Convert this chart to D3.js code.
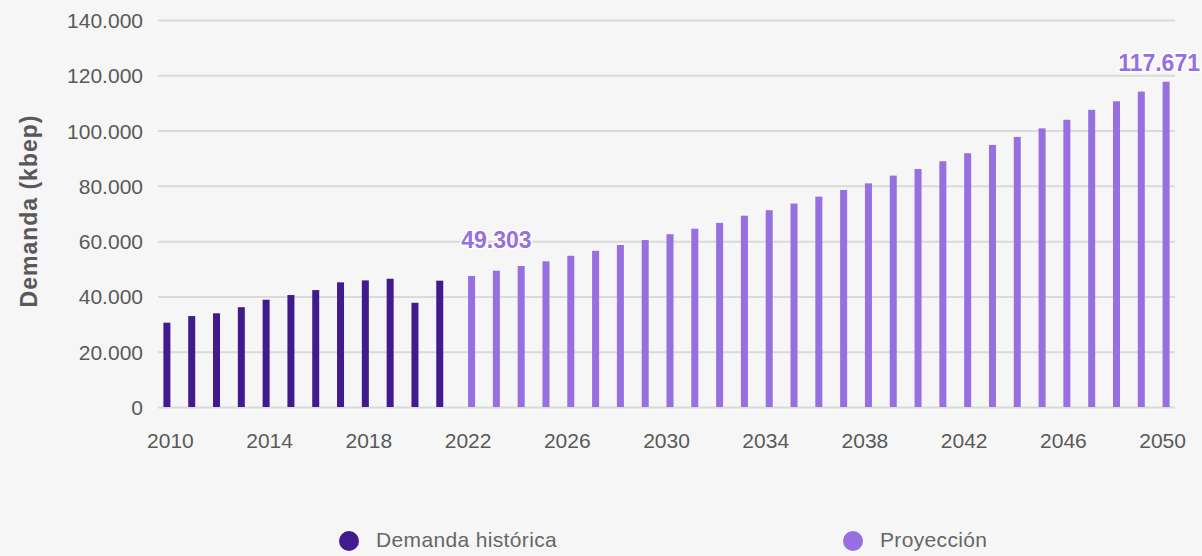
<!DOCTYPE html>
<html lang="es">
<head>
<meta charset="utf-8">
<script src="https://cdn.jsdelivr.net/npm/d3@7"></script>
<style>
  html, body { margin: 0; padding: 0; background: #f6f6f6; }
  svg { display: block; font-family: "Liberation Sans", Arial, Helvetica, sans-serif; }
</style>
</head>
<body>
<svg id="chart" width="1202" height="556"></svg>
<script>
// Demanda energética anual (kbep): histórica 2010–2021 y proyección 2022–2050
const years = d3.range(2010, 2051);
const historicYears = d3.range(2010, 2022);
const historicValues = [30500, 32900, 33900, 36100, 38800, 40500, 42300, 45100, 45800, 46400, 37700, 45700];
const projectionYears = d3.range(2022, 2051);
const projectionValues = [
  47400, 49303, 51000, 52700, 54700, 56500, 58600, 60400, 62500, 64500,
  66600, 69200, 71200, 73600, 76100, 78500, 80900, 83700, 86100, 88900,
  91800, 94800, 97700, 100800, 103900, 107500, 110600, 114100, 117671
];
const yTicks = [0, 20000, 40000, 60000, 80000, 100000, 120000, 140000];
const xTickYears = d3.range(2010, 2051, 4);
const seriesNames = ["Demanda histórica", "Proyección"];
const seriesColors = ["#411a8e", "#966fe0"];
const annotatedYears = [2023, 2050];

const svg = d3.select("#chart");
const W = 1202;

const esLocale = d3.formatLocale({ decimal: ",", thousands: ".", grouping: [3], currency: ["$", ""] });
const fmt = esLocale.format(",d");

const x0 = d3.scaleBand().domain(years).range([158, 1175]).padding(0);
const bw = x0.bandwidth();
const x1 = d3.scaleBand().domain(seriesNames).range([bw / 2 - 7, bw / 2 + 7]).padding(0);
const y = d3.scaleLinear().domain([0, 140000]).range([407, 20]);
const color = d3.scaleOrdinal().domain(seriesNames).range(seriesColors);

// Grid lines + y tick labels
const yAxis = d3.axisLeft(y).tickValues(yTicks).tickFormat(fmt).tickSize(-(1175 - 158)).tickPadding(15);
const gy = svg.append("g").attr("transform", "translate(158,0)").call(yAxis);
gy.select(".domain").remove();
gy.selectAll(".tick line").attr("stroke", "#dadada").attr("stroke-width", 2);
gy.selectAll(".tick text")
  .attr("fill", "#595959").attr("font-size", 21).attr("dy", "0.36em");

// X tick labels
const xAxis = d3.axisBottom(x0).tickValues(xTickYears).tickSize(0).tickPadding(0);
const gx = svg.append("g").attr("transform", "translate(0,407)").call(xAxis);
gx.select(".domain").remove();
gx.selectAll(".tick text")
  .attr("fill", "#595959").attr("font-size", 21).attr("y", 41).attr("dy", 0);

// Axis title
svg.append("text")
  .attr("transform", "translate(37,211) rotate(-90)")
  .attr("text-anchor", "middle")
  .attr("fill", "#595959")
  .attr("font-size", 23)
  .attr("font-weight", 600)
  .attr("letter-spacing", 1)
  .text("Demanda (kbep)");

// Bars
const series = [
  { name: seriesNames[0], years: historicYears, values: historicValues },
  { name: seriesNames[1], years: projectionYears, values: projectionValues }
];
series.forEach(s => {
  svg.append("g").selectAll("rect")
    .data(s.years.map((yr, i) => ({ year: yr, value: s.values[i] })))
    .join("rect")
    .attr("x", d => x0(d.year) + x1(s.name))
    .attr("width", x1.bandwidth())
    .attr("y", d => y(d.value))
    .attr("height", d => y(0) - y(d.value))
    .attr("fill", color(s.name));
});

// Value callouts on selected projection bars
const labelLift = { 2023: 23, 2050: 11 };
annotatedYears.forEach(yr => {
  const v = projectionValues[projectionYears.indexOf(yr)];
  const cx = x0(yr) + x1(seriesNames[1]) + x1.bandwidth() / 2;
  const t = svg.append("text")
    .attr("x", cx)
    .attr("y", y(v) - labelLift[yr])
    .attr("text-anchor", "middle")
    .attr("font-size", 23)
    .attr("font-weight", 700)
    .attr("fill", seriesColors[1])
    .attr("stroke", "#ffffff")
    .attr("stroke-width", 3)
    .attr("paint-order", "stroke")
    .attr("stroke-linejoin", "round")
    .text(fmt(v));
  const box = t.node().getBBox();
  if (box.x + box.width > W - 2) {
    t.attr("text-anchor", "end").attr("x", W - 2);
  }
});

// Legend
const legendPos = [349, 853];
const lg = svg.append("g");
seriesNames.forEach((name, i) => {
  const g = lg.append("g").attr("transform", `translate(${legendPos[i]},541)`);
  g.append("circle").attr("r", 10).attr("fill", seriesColors[i]);
  g.append("text")
    .attr("x", 27).attr("y", 6)
    .attr("font-size", 21)
    .attr("letter-spacing", 0.35)
    .attr("fill", "#666")
    .text(name);
});
</script>
</body>
</html>
